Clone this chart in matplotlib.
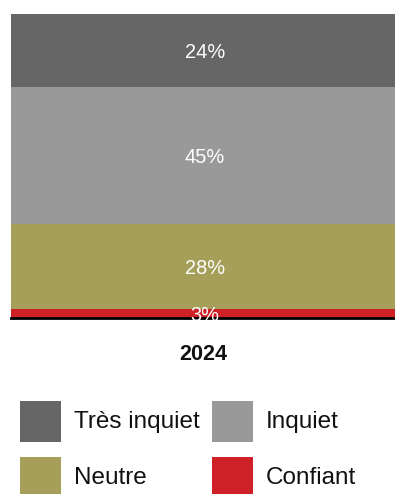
import matplotlib
matplotlib.use("Agg")
import matplotlib.pyplot as plt
from matplotlib.patches import Rectangle

plt.rcParams['font.family'] = ['Liberation Sans', 'DejaVu Sans']

# Data
year = "2024"
categories = ["Confiant", "Neutre", "Inquiet", "Très inquiet"]
values = [3, 28, 45, 24]
colors = ["#CD2027", "#A69F59", "#999999", "#666666"]

W, H = 395, 494
fig = plt.figure(figsize=(W / 100, H / 100), dpi=100)
ax = fig.add_axes([11 / W, 1 - 318 / H, 1 - 11 / W, (318 - 14) / H])

bottom = 0
for cat, val, col in zip(categories, values, colors):
    ax.bar([0], [val], bottom=bottom, width=1.0, color=col, linewidth=0)
    ax.text(0.005, bottom + val / 2 - 0.6, f"{val}%", ha="center", va="center",
            color="white", fontsize=14.4)
    bottom += val

for side in ["top", "right", "left"]:
    ax.spines[side].set_visible(False)
ax.spines["bottom"].set_linewidth(2.0)
ax.spines["bottom"].set_color("black")

ax.set_xlim(-0.5, 0.5)
ax.set_ylim(0, sum(values))
ax.set_yticks([])
ax.set_xticks([0])
ax.set_xticklabels([year], fontsize=15.5, fontweight="bold", color="#111111")
ax.tick_params(axis="x", length=0, pad=19)

# Legend laid out in two columns, drawn on the figure
legend_order = ["Très inquiet", "Inquiet", "Neutre", "Confiant"]
col_x = [20, 212]
row_y = [401, 457]
box = 41
for i, name in enumerate(legend_order):
    c = colors[categories.index(name)]
    x0 = col_x[i % 2]
    y0 = row_y[i // 2]
    fig.patches.append(Rectangle((x0 / W, 1 - (y0 + box) / H), box / W, box / H,
                                 transform=fig.transFigure, facecolor=c,
                                 edgecolor="none"))
    fig.text((x0 + 54) / W, 1 - (y0 + box / 2) / H, name, ha="left",
             va="center", fontsize=17.5, color="#111111")

fig.savefig("out.png", dpi=100)
